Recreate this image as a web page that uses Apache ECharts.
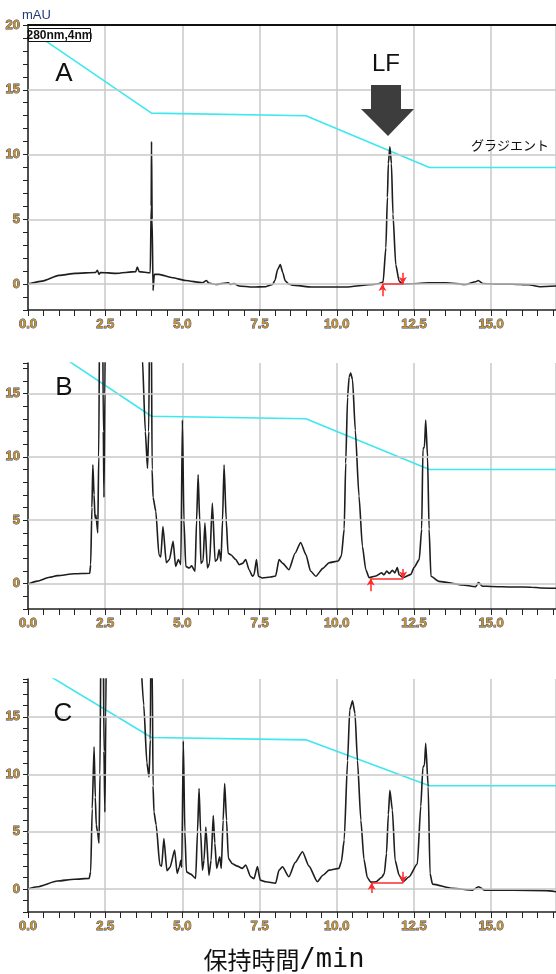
<!DOCTYPE html>
<html>
<head>
<meta charset="utf-8">
<title>LF chromatograms</title>
<script src="https://cdn.jsdelivr.net/npm/echarts@6.0.0/dist/echarts.min.js"></script>
<style>
html, body { margin: 0; padding: 0; background: #fff; }
#chart { width: 556px; height: 974px; }
</style>
</head>
<body>
<div id="chart"></div>
<script>
// gradient programme, same for the three runs
var gradient = [[0, 19.7], [4.0, 13.2], [9.0, 13.0], [13.0, 9.0], [17.1, 9.0]];

// A: LF standard
var traceA = [[0, 0], [0.46, 0.23], [1.0, 0.67], [1.54, 0.83], [2.19, 0.9], [2.25, 1.06], [2.3, 0.75], [2.35, 0.9],
    [2.84, 0.83], [3.49, 0.96], [3.54, 1.32], [3.6, 0.96], [3.96, 0.88], [3.99, 6], [4.0, 11.0], [4.02, 5],
    [4.05, -0.49], [4.09, 0.75], [4.24, 0.75], [4.68, 0.49], [5.1, 0.28], [5.65, 0.1], [5.78, 0.28], [5.85, 0.08],
    [6.08, -0.03], [6.49, 0.1], [6.55, -0.02], [6.67, 0.05], [6.84, -0.15], [7.27, -0.23], [7.7, -0.2], [7.92, -0.03],
    [8.0, 0.3], [8.08, 1.1], [8.17, 1.5], [8.25, 0.9], [8.33, 0.25], [8.45, 0.0], [8.56, -0.08], [9.21, -0.23],
    [10.29, -0.23], [11.15, -0.03], [11.37, 0.05], [11.5, 0.15], [11.59, 2.8], [11.64, 6.7], [11.67, 9.3],
    [11.72, 10.6], [11.77, 9.3], [11.82, 5.4], [11.91, 1.5], [12.02, 0.23], [12.13, 0.0], [12.45, 0.03],
    [12.99, 0.1], [13.53, 0.1], [14.18, -0.03], [14.5, 0.18], [14.58, 0.28], [14.72, 0.05], [15.15, 0],
    [15.69, 0], [16.2, -0.05], [16.6, -0.2], [17.1, -0.15]];

// B: sample
var traceB = [[0, -0.05], [0.3, 0.2], [0.7, 0.5], [0.95, 0.63], [1.5, 0.78], [2.0, 0.82], [2.03, 1.5], [2.07, 6],
    [2.1, 9.37], [2.14, 7], [2.17, 5.17], [2.2, 5.4], [2.26, 4.0], [2.29, 10], [2.33, 25], [2.4, 30], [2.44, 12],
    [2.46, 6.8], [2.49, 15], [2.53, 30], [2.6, 28], [3.0, 26], [3.5, 24], [3.7, 18], [3.8, 12], [3.87, 9.1],
    [3.91, 12], [3.95, 25], [3.99, 22], [4.02, 9], [4.05, 6.8], [4.14, 5.7], [4.24, 2.28], [4.3, 2.1], [4.37, 4.5],
    [4.48, 1.65], [4.58, 1.9], [4.7, 3.33], [4.78, 1.36], [4.87, 1.9], [4.95, 1.5], [5.0, 12.9], [5.05, 5],
    [5.11, 1.36], [5.22, 1.23], [5.3, 1.4], [5.41, 0.97], [5.46, 5], [5.51, 8.58], [5.56, 5], [5.6, 1.6],
    [5.67, 1.8], [5.73, 4.78], [5.81, 1.23], [5.88, 1.6], [5.97, 6.35], [6.06, 1.76], [6.13, 1.9], [6.19, 2.68],
    [6.25, 1.76], [6.3, 5], [6.35, 9.37], [6.42, 5], [6.48, 2.4], [6.57, 2.28], [6.73, 1.9], [6.84, 1.5],
    [6.95, 1.6], [7.05, 1.9], [7.16, 1.1], [7.27, 0.58], [7.32, 0.7], [7.4, 1.9], [7.46, 0.58], [7.59, 0.45],
    [7.86, 0.52], [8.02, 0.6], [8.13, 1.89], [8.25, 1.6], [8.45, 1.1], [8.65, 2.4], [8.83, 3.25], [9.0, 2.3],
    [9.15, 1.0], [9.32, 0.58], [9.55, 1.2], [9.75, 1.65], [10.05, 1.78], [10.15, 2.2], [10.24, 4.3], [10.29, 9.5],
    [10.35, 14.7], [10.4, 16.3], [10.45, 16.6], [10.51, 16.1], [10.6, 12.1], [10.72, 6.9], [10.83, 2.94],
    [10.94, 1.1], [11.05, 0.47], [11.27, 0.6], [11.45, 0.85], [11.53, 0.7], [11.62, 1.0], [11.7, 0.8],
    [11.8, 1.05], [11.88, 0.85], [11.96, 1.26], [12.02, 0.7], [12.15, 0.47], [12.4, 0.73], [12.5, 1.26],
    [12.67, 1.89], [12.75, 4.3], [12.79, 10.6], [12.84, 10.8], [12.88, 12.9], [12.94, 10.0], [12.99, 4.3],
    [13.05, 0.58], [13.31, 0.18], [14.07, -0.1], [14.5, -0.24], [14.59, 0.08], [14.72, -0.2], [15.0, -0.22],
    [15.7, -0.26], [16.3, -0.28], [16.6, -0.34], [17.1, -0.36]];

// C: sample + LF
var traceC = [[0, 0], [0.3, 0.2], [0.95, 0.7], [1.5, 0.85], [1.98, 0.93], [2.03, 1.5], [2.08, 7], [2.14, 12.4],
    [2.18, 8], [2.21, 5.6], [2.25, 5.0], [2.3, 4.0], [2.33, 10], [2.37, 25], [2.42, 30], [2.46, 12], [2.49, 6.7],
    [2.52, 15], [2.56, 30], [2.7, 28], [3.2, 26], [3.6, 22], [3.75, 16], [3.85, 11], [3.92, 9.76], [3.96, 13],
    [3.99, 25], [4.02, 20], [4.05, 9], [4.08, 6.7], [4.15, 5.6], [4.27, 2.1], [4.33, 2.0], [4.4, 4.4], [4.5, 1.6],
    [4.6, 1.9], [4.75, 3.4], [4.83, 1.36], [4.9, 1.9], [4.95, 2.5], [4.98, 1.9], [5.03, 12.9], [5.08, 5],
    [5.13, 1.5], [5.27, 1.3], [5.43, 0.93], [5.49, 5], [5.54, 8.75], [5.59, 5], [5.65, 1.65], [5.7, 2.5],
    [5.76, 5.4], [5.86, 1.2], [5.93, 2.5], [6.0, 6.4], [6.05, 4], [6.11, 1.8], [6.21, 2.8], [6.26, 1.8], [6.32, 6],
    [6.37, 9.2], [6.43, 6], [6.49, 2.67], [6.62, 2.2], [6.78, 2.0], [6.94, 1.8], [7.05, 2.1], [7.21, 1.07],
    [7.32, 0.9], [7.43, 1.95], [7.52, 0.78], [7.7, 0.64], [8.02, 0.5], [8.13, 1.65], [8.24, 1.94], [8.45, 1.07],
    [8.65, 2.3], [8.89, 3.25], [9.1, 2.0], [9.37, 0.64], [9.55, 1.2], [9.75, 1.65], [10.07, 1.8], [10.15, 2.4],
    [10.24, 4.26], [10.35, 11.2], [10.42, 15.6], [10.51, 16.4], [10.59, 15.3], [10.67, 11.2], [10.78, 6.0],
    [10.88, 2.6], [10.99, 1.0], [11.1, 0.6], [11.27, 0.64], [11.45, 1.0], [11.54, 1.36], [11.61, 3.1],
    [11.67, 6.5], [11.72, 8.6], [11.8, 6.9], [11.89, 2.5], [12.02, 1.2], [12.15, 0.64], [12.34, 1.07],
    [12.61, 2.2], [12.72, 7.2], [12.79, 10.6], [12.84, 10.8], [12.88, 12.7], [12.96, 8.9], [13.02, 1.36],
    [13.1, 0.43], [13.75, 0.06], [14.4, -0.09], [14.59, 0.2], [14.8, -0.1], [15.7, -0.1], [16.77, -0.14],
    [17.1, -0.23]];

// integration baseline marks: [start, end, level, up-arrow from, down-arrow from]
var baseA = [11.48, 12.14, 0, -0.93, 0.88];
var baseB = [11.1, 12.15, 0.4, -0.6, 1.15];
var baseC = [11.13, 12.15, 0.55, -0.35, 1.5];

var gridLinesY = [0, 5, 10, 15];
var yMaxList = [20, 17.4, 18.3];
var yMin = -2;
var xMax = 17.1;

var traces = [traceA, traceB, traceC];
var bases = [baseA, baseB, baseC];

var layout = [
    {top: 25, height: 285},
    {top: 363, height: 246},
    {top: 679, height: 233}
];

var narrow = '"Liberation Sans Narrow", "Arial Narrow", sans-serif';
var labelStyle = {
    fontFamily: narrow,
    fontWeight: 'bold',
    fontSize: 13,
    color: '#c8922a',
    textBorderColor: '#2b3f7a',
    textBorderWidth: 0.8
};

function xAxisFor(i) {
    return {
        type: 'value', gridIndex: i, min: 0, max: xMax, interval: 2.5,
        axisLine: {onZero: false, lineStyle: {color: '#222', width: 1.5}},
        axisTick: {length: 6, lineStyle: {color: '#222', width: 1}},
        minorTick: {show: true, splitNumber: 5, length: 6, lineStyle: {color: '#222', width: 1}},
        axisLabel: Object.assign({
            margin: 8, showMaxLabel: false,
            formatter: function(v) { return v.toFixed(1); }
        }, labelStyle),
        splitLine: {show: true, lineStyle: {color: '#c8c8c8', width: 1.5}}
    };
}

function yAxisFor(i) {
    return {
        type: 'value', gridIndex: i, min: yMin, max: yMaxList[i], interval: 1,
        axisLine: {show: true, onZero: false, lineStyle: {color: '#222', width: 1.5}},
        axisTick: {length: 5, lineStyle: {color: '#222', width: 1}},
        axisLabel: Object.assign({
            margin: 8,
            formatter: function(v) { return v % 5 === 0 ? String(v) : ''; }
        }, labelStyle),
        splitLine: {show: false}
    };
}

function baselineMarks(b) {
    return [
        [{coord: [b[0], b[2]], symbol: 'none'}, {coord: [b[1], b[2]], symbol: 'none'}],
        [{coord: [b[0], b[3]], symbol: 'none'}, {coord: [b[0], b[2]], symbol: 'arrow', symbolSize: [6, 7]}],
        [{coord: [b[1], b[4]], symbol: 'none'}, {coord: [b[1], b[2]], symbol: 'arrow', symbolSize: [6, 7]}]
    ];
}

var grids = [], xAxes = [], yAxes = [], series = [];
layout.forEach(function(l, i) {
    grids.push({left: 28, right: 0, top: l.top, height: l.height, containLabel: false});
    xAxes.push(xAxisFor(i));
    yAxes.push(yAxisFor(i));
    // horizontal grid lines every 5 mAU
    series.push({
        type: 'line', xAxisIndex: i, yAxisIndex: i, data: [], z: 1, silent: true,
        markLine: {
            silent: true, symbol: 'none', label: {show: false}, animation: false,
            lineStyle: {color: '#c8c8c8', width: 1.5, type: 'solid'},
            data: gridLinesY.map(function(v) { return {yAxis: v}; })
        }
    });
    series.push({
        type: 'line', xAxisIndex: i, yAxisIndex: i, data: gradient, z: 2,
        showSymbol: false, color: '#3de8ee', lineStyle: {width: 1.6, color: '#3de8ee'}
    });
    series.push({
        type: 'line', xAxisIndex: i, yAxisIndex: i, data: traces[i], z: 3,
        showSymbol: false, smooth: 0.2, smoothMonotone: 'x',
        color: '#1e1e1e', lineStyle: {width: 1.6, color: '#1e1e1e'}
    });
    series.push({
        type: 'line', xAxisIndex: i, yAxisIndex: i, data: [], z: 4, silent: true,
        markLine: {
            silent: true, label: {show: false}, animation: false,
            lineStyle: {color: '#ff2a2a', width: 1.5, type: 'solid'},
            itemStyle: {color: '#ff2a2a'},
            data: baselineMarks(bases[i])
        }
    });
});

// top frame line of panel A
xAxes.push({
    type: 'value', gridIndex: 0, position: 'top', min: 0, max: xMax,
    axisLine: {onZero: false, lineStyle: {color: '#111', width: 2}},
    axisTick: {show: false}, axisLabel: {show: false}, splitLine: {show: false}
});

var graphics = [
    {type: 'text', left: 22, top: 9, z: 10, style: {text: 'mAU', font: '13px ' + narrow, fill: '#233a78'}},
    {type: 'rect', shape: {x: 28.5, y: 28.5, width: 62, height: 13}, z: 10,
        style: {fill: '#fff', stroke: '#111', lineWidth: 1}},
    {type: 'text', x: 59.5, y: 35.5, z: 11,
        style: {text: '280nm,4nm', font: 'bold 12px ' + narrow, fill: '#111', align: 'center', verticalAlign: 'middle'}},
    {type: 'text', x: 64, y: 74, z: 10,
        style: {text: 'A', font: '26px "Liberation Sans", Arial, sans-serif', fill: '#111', align: 'center', verticalAlign: 'middle'}},
    {type: 'text', x: 64, y: 388, z: 10,
        style: {text: 'B', font: '26px "Liberation Sans", Arial, sans-serif', fill: '#111', align: 'center', verticalAlign: 'middle'}},
    {type: 'text', x: 63, y: 714, z: 10,
        style: {text: 'C', font: '26px "Liberation Sans", Arial, sans-serif', fill: '#111', align: 'center', verticalAlign: 'middle'}},
    {type: 'text', x: 386, y: 64, z: 10,
        style: {text: 'LF', font: '24px "Liberation Sans", Arial, sans-serif', fill: '#111', align: 'center', verticalAlign: 'middle'}},
    {type: 'polygon', z: 10,
        shape: {points: [[371, 85], [401, 85], [401, 109], [414, 109], [388, 136], [361, 109], [371, 109]]},
        style: {fill: '#3d3d3d'}},
    {type: 'text', x: 510, y: 145, z: 10,
        style: {text: 'グラジエント', font: '13px "Noto Sans CJK JP", sans-serif', fill: '#111', align: 'center', verticalAlign: 'middle'}},
    {type: 'text', x: 284, y: 960, z: 10,
        style: {
            text: '{a|保持時間}{b|/min}', align: 'center', verticalAlign: 'middle',
            rich: {
                a: {fontFamily: '"Noto Sans CJK JP", sans-serif', fontSize: 24, fill: '#111', color: '#111'},
                b: {fontFamily: '"DejaVu Sans Mono", monospace', fontSize: 27, fill: '#111', color: '#111'}
            }
        }}
];

var myChart = echarts.init(document.getElementById('chart'), null, {renderer: 'canvas'});
myChart.setOption({
    animation: false,
    backgroundColor: '#fff',
    grid: grids,
    xAxis: xAxes,
    yAxis: yAxes,
    series: series,
    graphic: graphics
});
</script>
</body>
</html>
